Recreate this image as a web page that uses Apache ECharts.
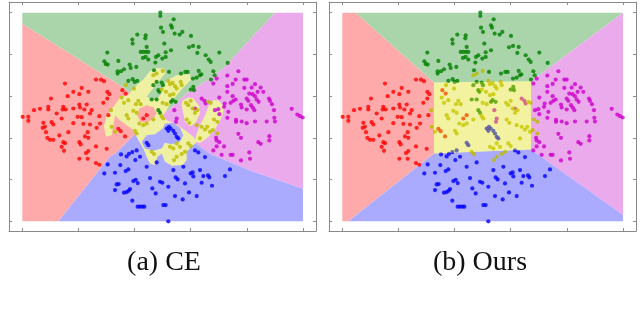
<!DOCTYPE html>
<html><head><meta charset="utf-8">
<script src="https://cdn.jsdelivr.net/npm/echarts@6/dist/echarts.min.js"></script>
<style>html,body{margin:0;padding:0;background:#fff}#c{width:640px;height:309px}</style>
</head><body><div id="c"></div>
<script>
// ---- data (units: plot area spans x 0..842, y 0..627) ----
const xTicks = [0, 168.4, 336.8, 505.2, 673.6, 842];
const yTicks = [0, 125.4, 250.8, 376.2, 501.6, 627];
const captions = ['(a) CE', '(b) Ours'];

const greenPts = [[414,627],[414,617],[454,607],[446,589],[449,582],[416,582],[422,569],[457,564],[472,561],[480,569],[506,557],[345,561],[370,559],[369,550],[330,546],[331,534],[426,534],[373,524],[500,523],[512,527],[529,524],[525,506],[355,509],[363,509],[371,509],[378,509],[446,514],[430,508],[255,507],[591,507],[408,499],[401,494],[550,499],[559,486],[565,479],[288,482],[246,481],[250,473],[256,471],[322,471],[342,464],[362,491],[370,494],[378,486],[430,494],[420,489],[399,477],[616,476],[286,451],[286,444],[296,451],[305,457],[325,461],[489,449],[476,444],[496,449],[529,452],[537,442],[331,427],[337,419],[345,422],[577,439],[512,429],[523,432],[403,419],[418,417],[408,394],[422,409],[513,404],[515,394],[505,396],[388,366],[403,366],[451,364],[446,359],[460,359],[573,451],[566,426],[440,449],[395,454],[318,422],[393,409],[411,389],[408,334],[413,326],[533,439]];
const magentaPts = [[648,451],[615,438],[583,429],[640,426],[666,426],[673,426],[573,414],[631,413],[615,406],[698,412],[666,401],[688,402],[715,402],[706,389],[723,389],[615,389],[681,384],[691,382],[698,376],[631,376],[591,372],[703,366],[709,359],[740,369],[743,362],[673,369],[678,362],[640,366],[633,362],[625,356],[607,354],[605,344],[656,351],[658,342],[686,349],[691,342],[696,334],[749,352],[755,334],[673,336],[808,338],[825,321],[833,316],[618,329],[588,337],[591,322],[615,311],[641,305],[641,299],[658,300],[673,295],[698,300],[733,300],[756,311],[758,300],[841,312],[648,263],[656,251],[581,251],[583,243],[591,238],[708,238],[715,233],[741,256],[741,243],[573,213],[583,225],[605,225],[681,207],[598,200],[625,200],[631,200],[683,188],[656,183],[456,334],[538,369],[546,362],[518,339],[550,354],[463,309],[461,299],[578,334]];
const bluePts = [[438,0],[346,44],[353,44],[360,44],[366,44],[330,62],[423,49],[430,49],[481,66],[523,76],[458,76],[400,84],[305,86],[313,88],[319,92],[323,97],[278,94],[390,99],[438,104],[500,87],[283,111],[289,112],[333,121],[340,125],[346,115],[538,116],[569,107],[413,119],[420,116],[488,114],[383,130],[246,144],[256,171],[278,146],[294,169],[310,151],[318,156],[339,184],[353,194],[373,164],[403,177],[460,132],[466,126],[505,144],[511,147],[543,136],[557,138],[561,132],[623,156],[608,136],[453,154],[533,154],[483,164],[528,207],[518,213],[433,279],[438,272],[445,279],[453,272],[440,284],[458,264],[463,254],[468,249],[373,236],[378,229],[296,201],[313,195],[320,203],[330,208],[343,213],[513,135],[548,193]];
const redPts = [[128,414],[221,426],[236,426],[245,421],[178,401],[153,389],[198,389],[255,389],[261,382],[136,376],[171,382],[86,369],[255,369],[243,356],[171,351],[193,351],[123,344],[121,336],[130,336],[78,344],[78,336],[53,338],[35,334],[208,334],[203,324],[173,342],[186,336],[153,339],[103,324],[231,316],[1,314],[18,314],[18,302],[63,296],[68,284],[88,298],[93,291],[153,295],[183,293],[203,291],[178,313],[61,281],[71,268],[138,268],[196,268],[223,281],[111,258],[75,251],[83,245],[93,245],[188,255],[198,251],[123,238],[128,235],[171,238],[175,231],[221,225],[253,218],[198,211],[191,205],[171,188],[196,188],[221,175],[231,170],[118,309],[233,294],[258,319],[166,314],[118,224],[125,212],[300,394],[310,384],[288,278],[295,271],[308,255],[373,319],[363,309]];
const yellowPts = [[298,372],[305,356],[341,352],[348,362],[355,352],[393,439],[403,444],[421,452],[438,422],[443,412],[451,416],[418,396],[431,389],[458,406],[463,399],[475,419],[478,409],[443,379],[453,382],[421,356],[433,352],[333,332],[343,326],[351,294],[363,289],[373,294],[393,306],[418,316],[423,309],[491,356],[498,349],[505,362],[511,339],[518,326],[525,334],[558,359],[565,356],[493,306],[501,296],[523,289],[538,284],[548,276],[555,284],[575,306],[585,299],[533,249],[498,234],[505,226],[585,264],[563,269],[571,274],[266,334],[318,364],[313,319],[318,309],[338,272],[343,264],[388,209],[395,202],[443,224],[453,219],[463,234],[473,224],[478,202],[463,194],[455,184],[488,209],[278,269],[268,284],[311,409],[335,399]];

// ---- decision regions (polygon vertices in data units) ----
const regionA_red = [[0,0],[0,594],[278,419],[303,402],[403,324],[278,203],[263,195],[108,0]];
const regionA_green = [[0,627],[758,627],[658,519],[603,459],[563,429],[493,384],[438,334],[403,324],[303,402],[278,419],[0,594]];
const regionA_magenta = [[758,627],[842,627],[842,98],[683,153],[563,203],[513,239],[478,264],[403,324],[438,334],[493,384],[563,429],[603,459],[658,519]];
const regionA_blue = [[108,0],[842,0],[842,98],[683,153],[563,203],[513,239],[478,264],[403,324],[278,203],[263,195]];
const regionA_yellow1 = [[251,254],[245,284],[253,319],[273,344],[288,364],[295,374],[315,377],[328,392],[343,409],[363,426],[383,452],[403,461],[425,459],[428,444],[408,419],[388,394],[373,374],[388,366],[403,366],[416,382],[421,406],[438,426],[463,439],[503,442],[505,424],[483,402],[463,379],[443,354],[433,334],[423,319],[433,304],[463,292],[488,274],[513,254],[523,239],[508,224],[493,209],[493,184],[481,169],[448,167],[428,179],[418,204],[405,194],[398,169],[383,174],[373,194],[363,219],[348,244],[338,264],[328,279],[313,289],[293,304],[278,319],[273,289],[268,259]];
const regionA_yellow2 = [[481,364],[498,372],[513,369],[531,346],[533,324],[518,294],[503,286],[488,299],[483,324],[478,349]];
const regionA_yellow3 = [[588,364],[605,346],[601,319],[588,294],[573,269],[553,249],[533,236],[518,239],[523,264],[533,289],[548,319],[558,344],[573,364]];
const regionA_redPatch = [[351,339],[373,349],[395,342],[403,324],[393,309],[373,296],[353,299],[345,319]];
const regionA_bluePatch = [[358,239],[373,259],[398,262],[421,279],[428,294],[453,296],[473,282],[483,259],[473,239],[448,232],[428,236],[418,219],[393,212],[368,219]];

const regionB_red = [[0,0],[0,627],[40,627],[275,417],[275,204],[18,0]];
const regionB_green = [[40,627],[842,627],[566,421],[275,417]];
const regionB_magenta = [[842,627],[842,19],[566,216],[566,421]];
const regionB_blue = [[18,0],[842,0],[842,19],[566,216],[275,204]];
const regionB_yellow = [[275,417],[566,421],[566,216],[275,204]];

// ---- styling ----
const pale = {red:'#ffaaaa', green:'#aad4aa', blue:'#aaaaff', magenta:'#ebaaeb', yellow:'#f0f0a2'};
const dot = {red:'#ff0000', green:'#008000', blue:'#0000ff', magenta:'#cc00cc', yellow:'#bcbc00'};

const chart = echarts.init(document.getElementById('c'), null, {renderer:'canvas'});

const frame = '#8a8a8a';
function xAx(g, pos){return {gridIndex:g, type:'value', min:-40, max:881, position:pos,
  axisLine:{show:true, onZero:false, lineStyle:{color:frame, width:1}},
  axisTick:{show:true, inside:true, length:3, customValues:xTicks, lineStyle:{color:frame}},
  axisLabel:{show:false}, splitLine:{show:false}};}
function yAx(g, pos){return {gridIndex:g, type:'value', min:-29, max:659, position:pos,
  axisLine:{show:true, onZero:false, lineStyle:{color:frame, width:1}},
  axisTick:{show:true, inside:true, length:3, customValues:yTicks, lineStyle:{color:frame}},
  axisLabel:{show:false}, splitLine:{show:false}};}

function polySeries(g, polys, z){
  return {type:'custom', xAxisIndex:g*2, yAxisIndex:g*2, z:z, silent:true, animation:false, clip:false,
    data: polys.map((p,i)=>[i]),
    renderItem:function(params, api){
      const p = polys[params.dataIndex];
      return {type:'polygon', shape:{points:p.pts.map(v=>api.coord(v))},
        style:{fill:p.fill, opacity:p.opacity==null?1:p.opacity, stroke:null}};
    }};
}
function scatter(g, pts, color, z){
  return {type:'scatter', xAxisIndex:g*2, yAxisIndex:g*2, z:z, silent:true, animation:false,
    symbol:'circle', symbolSize:4.2, itemStyle:{color:color}, data:pts};
}
const classes = [['green',greenPts],['magenta',magentaPts],['red',redPts],['blue',bluePts],['yellow',yellowPts]];

const series = [];
series.push(polySeries(0, [
  {pts:regionA_red, fill:pale.red},{pts:regionA_green, fill:pale.green},
  {pts:regionA_magenta, fill:pale.magenta},{pts:regionA_blue, fill:pale.blue},
  {pts:regionA_yellow1, fill:pale.yellow},{pts:regionA_yellow2, fill:pale.yellow},{pts:regionA_yellow3, fill:pale.yellow},
  {pts:regionA_redPatch, fill:pale.red},{pts:regionA_bluePatch, fill:pale.blue}], 1));
series.push(polySeries(1, [
  {pts:regionB_red, fill:pale.red},{pts:regionB_green, fill:pale.green},
  {pts:regionB_magenta, fill:pale.magenta},{pts:regionB_blue, fill:pale.blue}], 1));
classes.forEach(([k,pts])=>{ series.push(scatter(0, pts, dot[k], 2)); series.push(scatter(1, pts, dot[k], 2)); });
series.push(polySeries(1, [{pts:regionB_yellow, fill:'rgb(221,221,0)', opacity:0.37}], 3));

chart.setOption({
  animation:false,
  backgroundColor:'#ffffff',
  grid:[{left:9, top:2, width:307, height:229}, {left:329, top:2, width:307, height:229}],
  xAxis:[xAx(0,'bottom'), xAx(0,'top'), xAx(1,'bottom'), xAx(1,'top')],
  yAxis:[yAx(0,'left'), yAx(0,'right'), yAx(1,'left'), yAx(1,'right')],
  graphic:[
    {type:'text', x:164, y:263, style:{text:captions[0], font:'28px "Liberation Serif"', fill:'#111', textAlign:'center', textVerticalAlign:'middle'}},
    {type:'text', x:480, y:263, style:{text:captions[1], font:'28px "Liberation Serif"', fill:'#111', textAlign:'center', textVerticalAlign:'middle'}}
  ],
  series: series
});
</script></body></html>
